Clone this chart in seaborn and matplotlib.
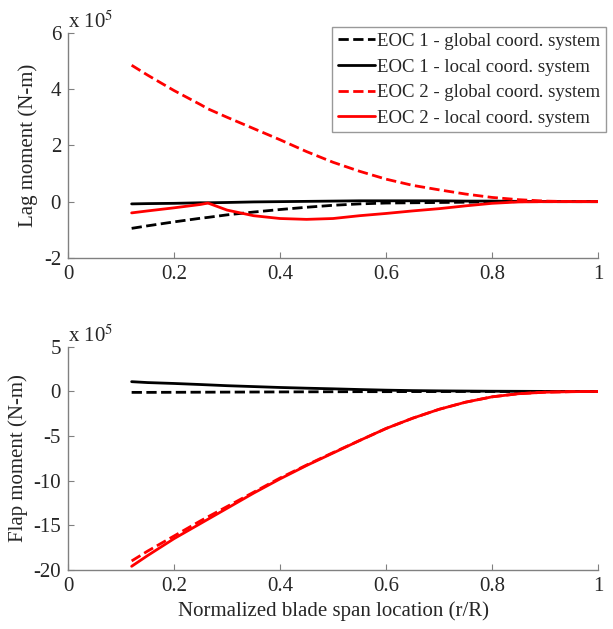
import matplotlib
matplotlib.use("Agg")
import matplotlib.pyplot as plt
import seaborn as sns

# values in units of 1e5 N-m
x_lag = [0.12, 0.15, 0.2, 0.25, 0.264, 0.3, 0.35, 0.4, 0.45, 0.5, 0.55, 0.6,
         0.65, 0.7, 0.75, 0.8, 0.85, 0.9, 0.95, 1.0]
lag_eoc1_global = [-0.95, -0.86, -0.72, -0.59, -0.56, -0.47, -0.37, -0.28, -0.2, -0.13,
                   -0.08, -0.05, -0.04, -0.03, -0.02, -0.01, 0.0, 0.0, 0.0, 0.0]
lag_eoc1_local = [-0.08, -0.07, -0.06, -0.04, -0.04, -0.03, -0.01, 0.0, 0.01, 0.02,
                  0.03, 0.03, 0.03, 0.03, 0.02, 0.02, 0.01, 0.0, 0.0, 0.0]
lag_eoc2_global = [4.85, 4.5, 3.95, 3.45, 3.3, 3.0, 2.6, 2.2, 1.78, 1.4,
                   1.08, 0.8, 0.58, 0.42, 0.27, 0.15, 0.07, 0.02, 0.0, 0.0]
lag_eoc2_local = [-0.4, -0.33, -0.22, -0.1, -0.05, -0.3, -0.5, -0.6, -0.63, -0.6,
                  -0.5, -0.42, -0.33, -0.25, -0.15, -0.06, -0.01, 0.0, 0.0, 0.0]

x_flap = [0.12, 0.15, 0.2, 0.25, 0.3, 0.35, 0.4, 0.45, 0.5, 0.55, 0.6,
          0.65, 0.7, 0.75, 0.8, 0.85, 0.9, 0.95, 1.0]
flap_eoc1_global = [-0.1, -0.1, -0.09, -0.08, -0.07, -0.06, -0.05, -0.04, -0.03, -0.02,
                    -0.02, -0.01, -0.01, 0.0, 0.0, 0.0, 0.0, 0.0, 0.0]
flap_eoc1_local = [1.1, 1.0, 0.9, 0.78, 0.65, 0.55, 0.45, 0.37, 0.3, 0.22, 0.15,
                   0.1, 0.07, 0.05, 0.03, 0.02, 0.01, 0.0, 0.0]
flap_eoc2_global = [-19.0, -17.9, -16.2, -14.5, -12.9, -11.3, -9.7, -8.25, -6.85, -5.5,
                    -4.15, -3.0, -2.0, -1.2, -0.6, -0.25, -0.08, -0.02, 0.0]
flap_eoc2_local = [-19.6, -18.4, -16.5, -14.8, -13.1, -11.4, -9.8, -8.3, -6.9, -5.5,
                   -4.15, -3.0, -2.0, -1.2, -0.6, -0.25, -0.08, -0.02, 0.0]

labels = ["EOC 1 - global coord. system", "EOC 1 - local coord. system",
          "EOC 2 - global coord. system", "EOC 2 - local coord. system"]
colors = ["black", "black", "red", "red"]
styles = ["--", "-", "--", "-"]

sns.set_style("ticks")
plt.rcParams['font.family'] = ['Liberation Serif', 'DejaVu Serif']
plt.rcParams['mathtext.fontset'] = 'stix'

fig = plt.figure(figsize=(6.13, 6.29), dpi=100)
ax1 = fig.add_axes([0.111, 0.590, 0.8646, 0.3577])
ax2 = fig.add_axes([0.111, 0.094, 0.8646, 0.3545])

def draw(ax, x, series, ylim, yticks, ylabel):
    for ys, lab, c, ls in zip(series, labels, colors, styles):
        sns.lineplot(x=x, y=ys, ax=ax, color=c, linestyle=ls, linewidth=2.0, label=lab)
    ax.set_xlim(0, 1)
    ax.set_ylim(*ylim)
    ax.set_xticks([0, 0.2, 0.4, 0.6, 0.8, 1])
    ax.set_xticklabels(["0", "0.2", "0.4", "0.6", "0.8", "1"])
    ax.set_yticks(yticks)
    ax.set_yticklabels([str(t) for t in yticks])
    ax.tick_params(direction="in", length=4, labelsize=15, color="#808080", pad=5)
    for s in ["top", "right"]:
        ax.spines[s].set_visible(False)
    for s in ["left", "bottom"]:
        ax.spines[s].set_color("#808080")
        ax.spines[s].set_linewidth(1.0)
    ax.set_ylabel(ylabel, fontsize=15)
    ax.text(0.0, 1.0, r"x 10$^5$", transform=ax.transAxes, fontsize=15,
            ha="left", va="bottom")

draw(ax1, x_lag, [lag_eoc1_global, lag_eoc1_local, lag_eoc2_global, lag_eoc2_local],
     (-2, 6), [-2, 0, 2, 4, 6], "Lag moment (N-m)")
draw(ax2, x_flap, [flap_eoc1_global, flap_eoc1_local, flap_eoc2_global, flap_eoc2_local],
     (-20, 5), [-20, -15, -10, -5, 0, 5], "Flap moment (N-m)")

ax2.get_legend().remove()
leg = ax1.legend(loc="upper right", bbox_to_anchor=(1.015, 1.025), fontsize=13.5,
                 frameon=True, fancybox=False, handlelength=2.0, handletextpad=0.1,
                 borderpad=0.3, labelspacing=0.45, borderaxespad=0)
leg.get_frame().set_edgecolor("#808080")
leg.get_frame().set_linewidth(1.0)

ax2.set_xlabel("Normalized blade span location (r/R)", fontsize=15, labelpad=4)

fig.savefig("out.png", dpi=100)
